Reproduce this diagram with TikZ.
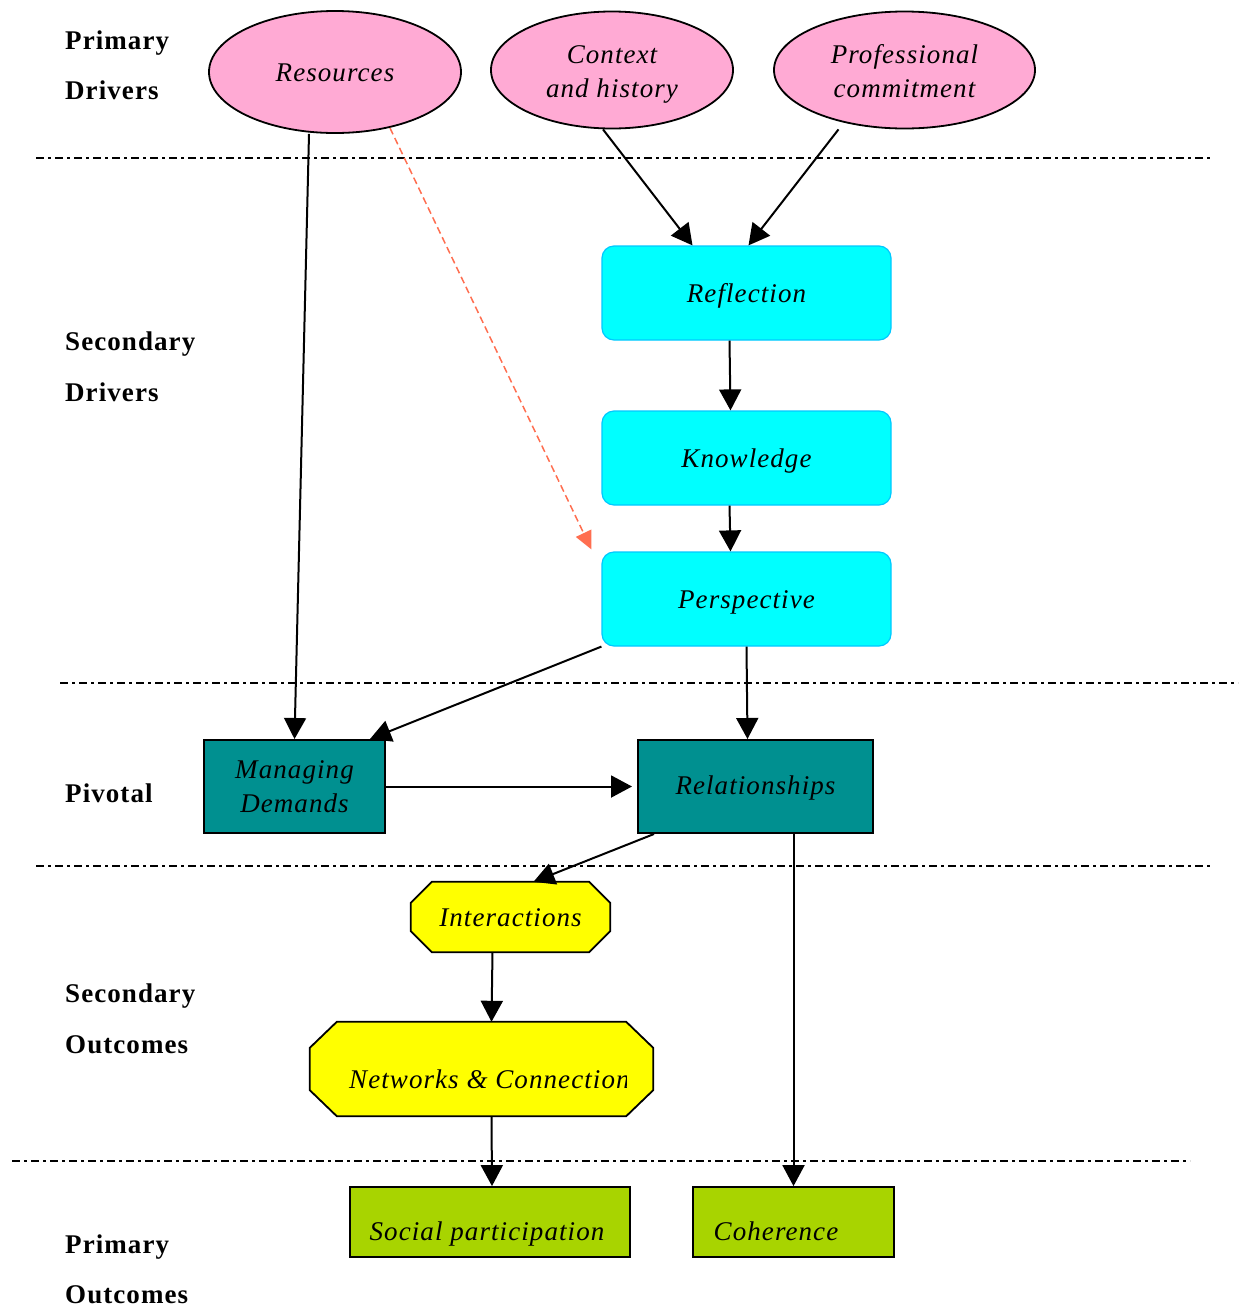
\documentclass[tikz,border=0pt]{standalone}
\usepackage{fontspec}
\setmainfont{Liberation Serif}[LetterSpace=4]
\usetikzlibrary{arrows.meta,shapes.geometric,calc,backgrounds}
\definecolor{pinkE}{RGB}{255,170,212}
\definecolor{cyanF}{RGB}{0,255,255}
\definecolor{cyanB}{RGB}{0,200,255}
\definecolor{tealP}{RGB}{0,144,144}
\definecolor{yellowO}{RGB}{255,255,0}
\definecolor{greenP}{RGB}{168,212,0}
\definecolor{salmon}{RGB}{255,110,80}
\newcommand{\lowr}[2]{\raisebox{-#1}[\height][\depth]{#2}}
\tikzset{
  lbl/.style={font=\fontsize{27}{34}\selectfont\bfseries, anchor=base west, inner sep=0pt},
  itx/.style={font=\fontsize{27}{34}\selectfont\itshape, align=center, inner sep=0pt},
  drv/.style={ellipse, draw=black, line width=1.8pt, fill=pinkE, itx},
  secbox/.style={rectangle, rounded corners=12pt, draw=cyanB, line width=1.2pt, fill=cyanF,
                 minimum width=289pt, minimum height=94pt, itx, text height=19pt, text depth=0pt},
  pivbox/.style={rectangle, draw=black, line width=2pt, fill=tealP, itx},
  primbox/.style={rectangle, draw=black, line width=1.8pt, fill=greenP, minimum height=70pt, inner sep=0pt},
  octa/.style={draw=black, line width=1.8pt, fill=yellowO},
  arr/.style={line width=2pt, -{Triangle[length=21pt,width=22pt]}},
  darr/.style={line width=1.5pt, draw=salmon, dash pattern=on 7pt off 4pt,
               -{Triangle[length=18pt,width=17pt,fill=salmon]}},
  sepline/.style={line width=1.8pt, dash pattern=on 8pt off 4pt on 3pt off 4pt},
}
\begin{document}
\begin{tikzpicture}[x=1pt,y=-1pt]
\useasboundingbox (0,0) rectangle (1244,1307);

% separators
\draw[sepline] (36,158) -- (1213,158);
\draw[sepline] (60,683) -- (1238,683);
\draw[sepline] (36,866) -- (1213,866);
\draw[sepline] (12,1161) -- (1190,1161);

% level labels
\node[lbl] (l1a) at (65,49.5) {Primary};
\node[lbl] (l1b) at (65,99.5) {Drivers};
\node[lbl] (l2a) at (65,350.5) {Secondary};
\node[lbl] (l2b) at (65,401.5) {Drivers};
\node[lbl] (l3) at (65,802.5) {Pivotal};
\node[lbl] (l4a) at (65,1002.5) {Secondary};
\node[lbl] (l4b) at (65,1053.5) {Outcomes};
\node[lbl] (l5a) at (65,1253.5) {Primary};
\node[lbl] (l5b) at (65,1303.5) {Outcomes};

% primary drivers
\node[drv, minimum width=252pt, minimum height=122pt] (res) at (335,72) {\lowr{1pt}{Resources}};
\node[drv, minimum width=242pt, minimum height=117pt] (ctx) at (612,70) {\lowr{4pt}{Context}\\\lowr{4pt}{and history}};
\node[drv, minimum width=261pt, minimum height=117pt] (prof) at (904.5,70) {\lowr{1pt}{Professional}\\\lowr{1pt}{commitment}};

% secondary drivers
\node[secbox] (refl) at (746.5,293) {Reflection};
\node[secbox] (know) at (746.5,458) {Knowledge};
\node[secbox] (persp) at (746.5,599) {Perspective};

% pivotal
\node[pivbox, minimum width=181pt, minimum height=93pt] (md) at (294.5,786.5) {Managing\\Demands};
\node[pivbox, minimum width=235pt, minimum height=93pt] (rel) at (755.5,786.5) {\lowr{1pt}{Relationships}};

% secondary outcomes (octagons)
\node[itx, minimum width=199pt, minimum height=70pt, text height=19pt, text depth=0pt] (inter) at (510.5,917) {Interactions};
\node[inner sep=0pt, minimum width=343pt, minimum height=94pt] (net) at (481.5,1069) {};
\begin{scope}
  \clip (310,1022) rectangle (626,1116);
  \node[itx, anchor=west] (nettxt) at (349,1079) {Networks \& Connection};
\end{scope}
\begin{pgfonlayer}{background}
  \draw[octa] ($(inter.north west)+(21,0)$) -- ($(inter.north east)+(-21,0)$)
     -- ($(inter.north east)+(0,21)$) -- ($(inter.south east)+(0,-21)$)
     -- ($(inter.south east)+(-21,0)$) -- ($(inter.south west)+(21,0)$)
     -- ($(inter.south west)+(0,-21)$) -- ($(inter.north west)+(0,21)$) -- cycle;
  \draw[octa] ($(net.north west)+(27,0)$) -- ($(net.north east)+(-27,0)$)
     -- ($(net.north east)+(0,26)$) -- ($(net.south east)+(0,-26)$)
     -- ($(net.south east)+(-27,0)$) -- ($(net.south west)+(27,0)$)
     -- ($(net.south west)+(0,-26)$) -- ($(net.north west)+(0,26)$) -- cycle;
\end{pgfonlayer}

% primary outcomes
\node[primbox, minimum width=280pt] (soc) at (490,1222) {};
\node[primbox, minimum width=201pt] (coh) at (793.5,1222) {};
\node[itx, anchor=base] (soctxt) at (487,1240) {Social participation};
\node[itx, anchor=base] (cohtxt) at (776,1240) {Coherence};

% connectors
\draw[arr] ($(res.south)+(-26,0)$) -- (md.north);
\draw[darr] ($(res.center)+(55,56)$) -- ($(persp.north west)+(-10,-2)$);
\draw[arr] ($(ctx.south)+(-9,0)$) -- ($(refl.north)+(-54,0)$);
\draw[arr] ($(prof.south)+(-66,0)$) -- ($(refl.north)+(2,0)$);
\draw[arr] ($(refl.south)+(-17,0)$) -- ($(know.north)+(-16,0)$);
\draw[arr] ($(know.south)+(-17,0)$) -- ($(persp.north)+(-16,0)$);
\draw[arr] (persp.south west) -- ($(md.north east)+(-16,0)$);
\draw[arr] (persp.south) -- ($(rel.north)+(-8,0)$);
\draw[arr] (md.east) -- ($(rel.west)+(-5,0)$);
\draw[arr] ($(rel.south west)+(17,0)$) -- ($(inter.north)+(23,0)$);
\draw[arr] ($(inter.south)+(-18,0)$) -- ($(net.north)+(10,0)$);
\draw[arr] ($(net.south)+(10,0)$) -- ($(soc.north)+(2,0)$);
\draw[arr] ($(rel.south)+(38,0)$) -- (coh.north);
\end{tikzpicture}
\end{document}
